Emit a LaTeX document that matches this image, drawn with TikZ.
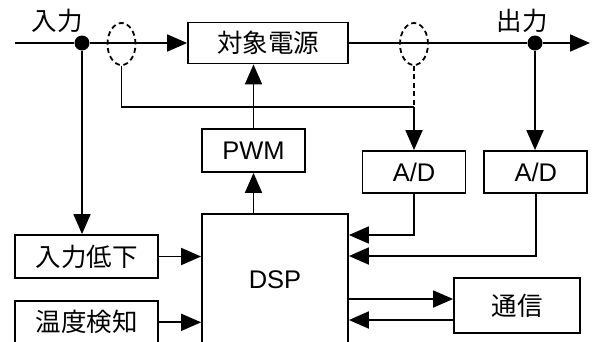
\documentclass[tikz,border=0pt]{standalone}
\usepackage{fontspec}
\setmainfont{Liberation Sans}
\newfontfamily\jp{Noto Sans CJK JP}
\usetikzlibrary{arrows.meta}
\usetikzlibrary{positioning}
\usetikzlibrary{shapes}

\begin{document}
\begin{tikzpicture}[x=1pt,y=-1pt,>={Triangle[length=20pt,width=17pt]},line width=1.8pt,
  font=\fontsize{25.5}{30}\selectfont,
  blk/.style={draw,inner sep=0pt,minimum height=43pt},
  dot/.style={circle,fill,inner sep=0pt,minimum size=15pt},
  probe/.style={ellipse,draw,dash pattern=on 5pt off 3.5pt,inner sep=0pt,minimum width=28pt,minimum height=42pt}]
\useasboundingbox (0,0) rectangle (593,341);
\clip (0,0) rectangle (593,341);
%\path[use as bounding box] (0,0) rectangle (593,341);
\path node[blk,minimum width=160pt,minimum height=41pt] (src) at (268,43) {\jp 対象電源};
\path node[blk,minimum width=103pt] (pwm) at (253.5,150.5) {PWM};
\path node[blk,minimum width=103pt,minimum height=42pt] (ad1) at (414,172) {A/D};
\path node[blk,minimum width=103pt,minimum height=42pt,right=17pt of ad1] (ad2) {A/D};
\path node[blk,minimum width=143pt] (low) at (86.5,256.5) {\jp 入力低下};
\path node[blk,minimum width=143pt,below=21pt of low] (temp) {\jp 温度検知};
\path node[blk,minimum width=146pt,minimum height=132pt] (dsp) at (275,280) {DSP};
\path node[blk,minimum width=126pt,minimum height=55pt] (com) at (517,305.5) {\jp 通信};
\path node (lin) at (57,21) {\jp 入力};
\path node (lout) at (522,21) {\jp 出力};
\coordinate (in) at (15,43);
\coordinate (out) at (590,43);
\path node[dot] (jin) at (82,43) {};
\path node[dot] (jout) at (535,43) {};
\path node[probe] (e1) at (121.5,44) {};
\path node[probe] (e2) at (414,44) {};
% main line
\path[draw] (in) -- (jin);
\path[->] (jin) edge (src);
\path[draw] (src) -- (jout);
\path[->] (jout) edge (out);
% sensing
\path[draw] (e1.south) |- ([yshift=43pt]ad1.north) coordinate (tap);
\path[draw,dash pattern=on 5pt off 3.5pt] (e2.south) -- (tap);
\path[->] (tap) edge (ad1.north);
\path[->] (jout) edge (jout |- ad2.north);
\path[->] (jin) edge (jin |- low.north);
% control
\path[->] (pwm) edge (pwm |- src.south);
\path[->] (pwm |- dsp.north) edge (pwm);
\path[->,draw] (ad1.south) |- ([yshift=45pt]dsp.east);
\path[->,draw] (ad2.south) |- ([yshift=24pt]dsp.east);
\path[->] (low) edge (low -| dsp.west);
\path[->] (temp) edge (temp -| dsp.west);
\path[->] ([yshift=6.5pt]com.west -| dsp.east) edge ([yshift=6.5pt]com.west);
\path[->] ([yshift=-14.5pt]com.west) edge ([yshift=-14.5pt]com.west -| dsp.east);
\end{tikzpicture}
\end{document}
